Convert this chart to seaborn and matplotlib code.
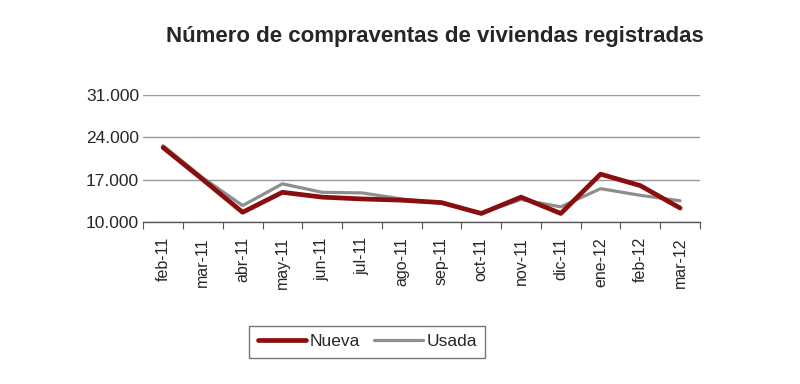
import numpy as np
import pandas as pd
import matplotlib
matplotlib.use("Agg")
import matplotlib.pyplot as plt
import seaborn as sns
from matplotlib.lines import Line2D

months = ["feb-11", "mar-11", "abr-11", "may-11", "jun-11", "jul-11", "ago-11",
          "sep-11", "oct-11", "nov-11", "dic-11", "ene-12", "feb-12", "mar-12"]
nueva = [22300, 17000, 11600, 14900, 14100, 13800, 13600, 13200, 11400, 14100, 11400, 17900, 16000, 12300]
usada = [22600, 17300, 12700, 16300, 14900, 14800, 13800, 13100, 11500, 13700, 12500, 15500, 14400, 13500]
yticks = [10000, 17000, 24000, 31000]
ytick_labels = ["10.000", "17.000", "24.000", "31.000"]

sns.set_theme(style="white")
plt.rcParams['font.family'] = ['Liberation Sans', 'DejaVu Sans']

df = pd.DataFrame({
    "mes": months * 2,
    "valor": nueva + usada,
    "tipo": ["Nueva"] * len(months) + ["Usada"] * len(months),
})
df["pos"] = list(range(len(months))) * 2

fig = plt.figure(figsize=(8, 3.84), dpi=100)
ax = fig.add_axes([0.179, 0.422, 0.696, 0.331])

sns.lineplot(data=df, x="pos", y="valor", hue="tipo", size="tipo",
             palette={"Nueva": "#8B0D0D", "Usada": "#8E8E8E"},
             sizes={"Nueva": 3.4, "Usada": 2.3},
             ax=ax, legend=False, zorder=3)
ax.lines[0].set_zorder(4)

ax.set_xlim(-0.5, len(months) - 0.5)
ax.set_ylim(10000, 31000)
ax.set_yticks(yticks)
ax.set_yticklabels(ytick_labels, fontsize=12.5)
ax.set_xticks(range(len(months)))
ax.set_xticklabels(months, rotation=90, fontsize=11.5)
ax.set_xticks(np.arange(-0.5, len(months), 1.0), minor=True)
ax.tick_params(axis="x", which="major", length=0, pad=11)
ax.tick_params(axis="x", which="minor", length=5, width=0.8, color="#555555", direction="out", bottom=True)
ax.tick_params(axis="y", length=0, pad=3)
ax.set_xlabel("")
ax.set_ylabel("")
ax.grid(axis="y", color="#9a9a9a", linewidth=1.0)
ax.grid(axis="x", visible=False)
for s in ["top", "right", "left"]:
    ax.spines[s].set_visible(False)
ax.spines["bottom"].set_color("#555555")
ax.spines["bottom"].set_linewidth(1.0)

fig.text(0.543, 0.905, "Número de compraventas de viviendas registradas",
         ha="center", va="center", fontsize=16, fontweight="bold")

handles = [Line2D([], [], color="#8B0D0D", linewidth=3.4),
           Line2D([], [], color="#8E8E8E", linewidth=2.3)]
leg = fig.legend(handles, ["Nueva", "Usada"], loc="center", bbox_to_anchor=(0.459, 0.11),
                 ncol=2, fontsize=12.5, frameon=True, fancybox=False,
                 handlelength=2.8, handletextpad=0.2, columnspacing=0.8,
                 borderpad=0.5)
leg.get_frame().set_edgecolor("#555555")
leg.get_frame().set_linewidth(1.0)

fig.savefig("out.png", dpi=100, facecolor="white")
